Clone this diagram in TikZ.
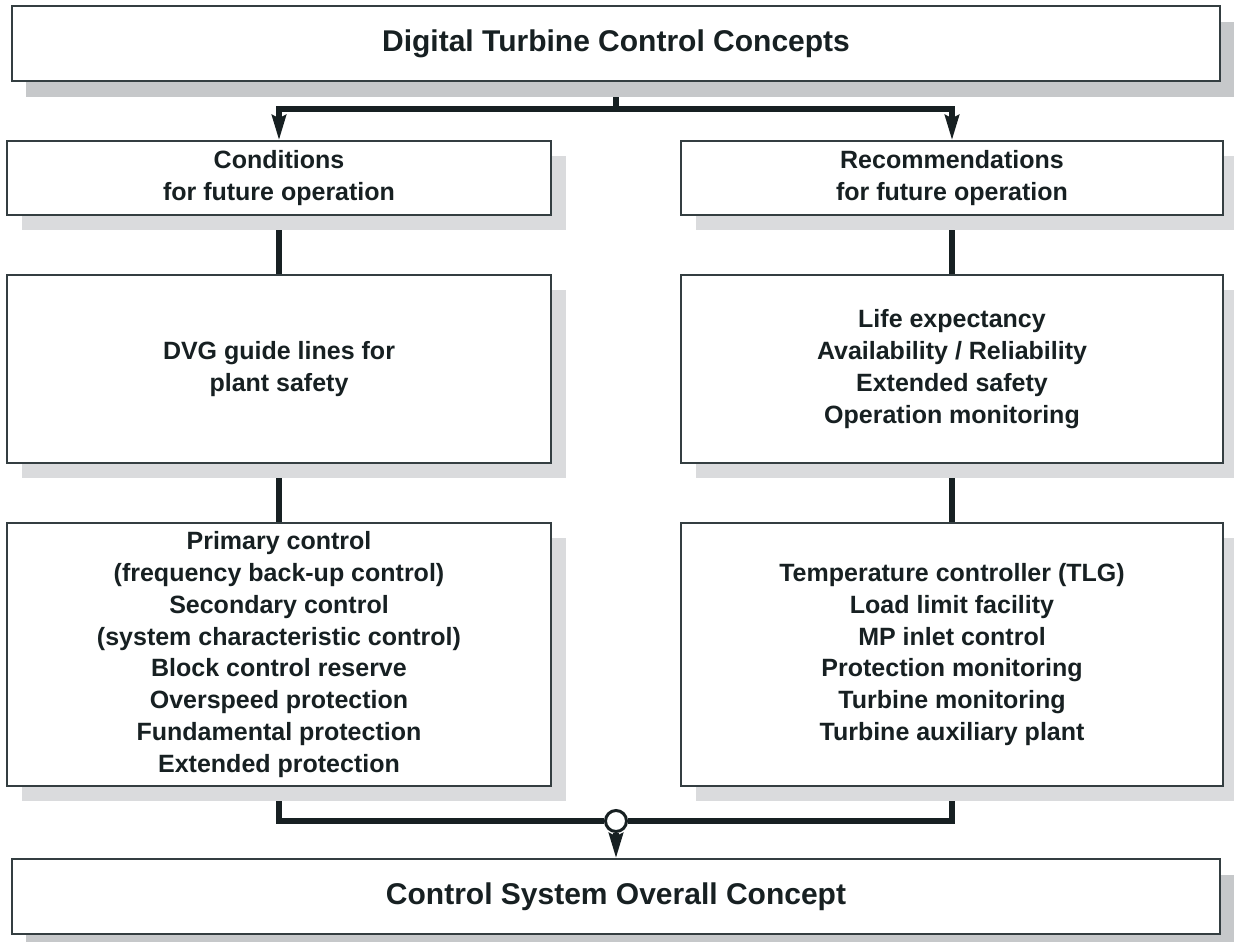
\documentclass[tikz,border=0pt]{standalone}
\usepackage{fontspec}
\setmainfont{Liberation Sans}
\usetikzlibrary{arrows.meta,shadows}
\definecolor{ink}{HTML}{172022}
\definecolor{edgec}{HTML}{343E41}
\definecolor{shadowA}{HTML}{C6C8CA}
\definecolor{shadowB}{HTML}{DADBDD}
\pgfdeclarelayer{paper}
\pgfdeclarelayer{wires}
\pgfsetlayers{paper,wires,main}
\newcommand\bodyfont{\fontsize{25}{31.8}\selectfont\bfseries}
\newcommand\headfont{\fontsize{30}{36}\selectfont\bfseries}
\tikzset{
  box/.style={draw=edgec, line width=1.7pt, fill=white, text=ink, align=center,
              inner sep=0pt, font=\bodyfont},
  shA/.style={general shadow={fill=shadowA, shadow xshift=14pt, shadow yshift=-16pt}},
  shB/.style={general shadow={fill=shadowB, shadow xshift=15pt, shadow yshift=-15pt}},
  wire/.style={draw=ink, line width=5.2pt},
  arr/.style={-{Stealth[length=25pt,width=14pt,inset=3pt]}},
  joint/.style={circle, draw=ink, line width=3pt, fill=white, minimum size=21pt, inner sep=0pt}
}
\begin{document}
\begin{tikzpicture}[x=1pt,y=-1pt]
\useasboundingbox (0,0) rectangle (1234,942);
\begin{pgfonlayer}{paper}
  \fill[white] (0,0) rectangle (1234,942);
\end{pgfonlayer}

\node[box, shA, minimum width=1208pt, minimum height=75pt, font=\headfont] (title) at (616,43.5)
  {Digital Turbine Control Concepts};

\node[box, shB, minimum width=544pt, minimum height=74pt] (cond) at (279,178)
  {Conditions\\for future operation};
\node[box, shB, minimum width=542pt, minimum height=74pt] (rec) at (952,178)
  {Recommendations\\for future operation};

\node[box, shB, minimum width=544pt, minimum height=188pt] (dvg) at (279,369)
  {DVG guide lines for\\plant safety};
\node[box, shB, minimum width=542pt, minimum height=188pt] (goals) at (952,369)
  {Life expectancy\\Availability / Reliability\\Extended safety\\Operation monitoring};

\node[box, shB, minimum width=544pt, minimum height=263pt] (prim) at (279,654.5)
  {Primary control\\(frequency back-up control)\\Secondary control\\(system characteristic control)\\Block control reserve\\Overspeed protection\\Fundamental protection\\Extended protection};
\node[box, shB, minimum width=542pt, minimum height=263pt] (temp) at (952,654.5)
  {Temperature controller (TLG)\\Load limit facility\\MP inlet control\\Protection monitoring\\Turbine monitoring\\Turbine auxiliary plant};

\node[box, shA, minimum width=1208pt, minimum height=75pt, font=\headfont] (overall) at (616,896.5)
  {Control System Overall Concept};

\node[joint] (join) at (616,821) {};
\coordinate (split) at (616,109);

\begin{pgfonlayer}{wires}
  \draw[wire] (title.south) -- (split);
  \draw[wire,arr] (split) -| (cond.north);
  \draw[wire,arr] (split) -| (rec.north);
  \draw[wire] (cond.south) -- (dvg.north);
  \draw[wire] (rec.south) -- (goals.north);
  \draw[wire] (dvg.south) -- (prim.north);
  \draw[wire] (goals.south) -- (temp.north);
  \draw[wire] (prim.south) |- (join);
  \draw[wire] (temp.south) |- (join);
\end{pgfonlayer}
\draw[wire,arr] (join) -- (overall.north);
\end{tikzpicture}
\end{document}
